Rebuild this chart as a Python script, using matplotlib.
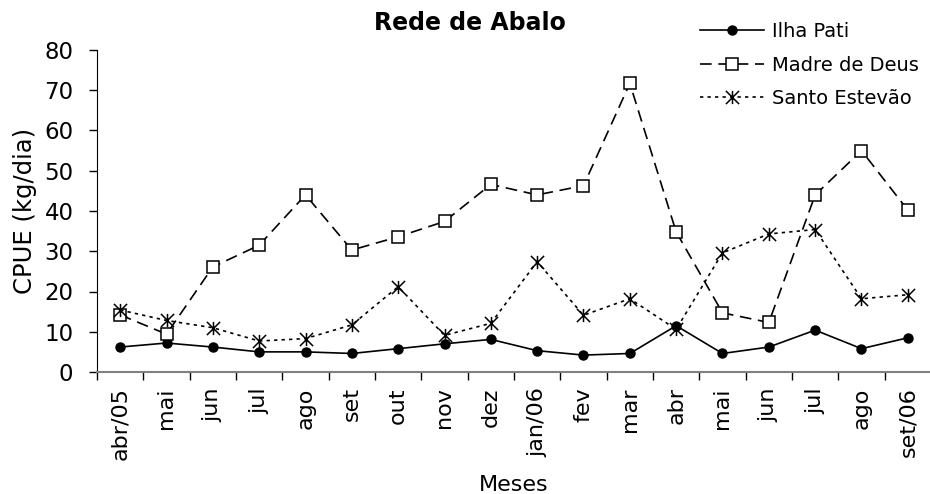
import matplotlib
matplotlib.use('Agg')
import matplotlib.pyplot as plt
from matplotlib.path import Path
import numpy as np

# Monthly CPUE (kg/dia) per site, abr/05 - set/06
meses = ['abr/05', 'mai', 'jun', 'jul', 'ago', 'set', 'out', 'nov', 'dez',
         'jan/06', 'fev', 'mar', 'abr', 'mai', 'jun', 'jul', 'ago', 'set/06']
ilha_pati = [6.2, 7.2, 6.2, 5.0, 5.0, 4.6, 5.8, 7.0, 8.1,
             5.3, 4.2, 4.6, 11.5, 4.6, 6.2, 10.4, 5.8, 8.5]
madre_de_deus = [14.2, 9.4, 26.1, 31.5, 44.0, 30.3, 33.6, 37.4, 46.6,
                 44.0, 46.3, 71.7, 34.8, 14.7, 12.3, 44.0, 55.0, 40.2]
santo_estevao = [15.4, 12.8, 11.0, 7.7, 8.3, 11.7, 21.2, 9.1, 12.1,
                 27.4, 14.1, 18.2, 10.6, 29.6, 34.3, 35.4, 18.2, 19.2]

plt.rcParams['font.family'] = ['DejaVu Sans']

# star marker: vertical bar plus an X
star = Path([(0, -1), (0, 1), (-1, -1), (1, 1), (-1, 1), (1, -1)],
            [Path.MOVETO, Path.LINETO, Path.MOVETO, Path.LINETO, Path.MOVETO, Path.LINETO])

fig = plt.figure(figsize=(9.3, 4.94), dpi=100)
ax = fig.add_axes([97 / 930, 122 / 494, 834 / 930, 322 / 494])

x = np.arange(len(meses))
ax.plot(x, ilha_pati, color='black', lw=1.2, marker='o', ms=6.5,
        label='Ilha Pati')
ax.plot(x, madre_de_deus, color='black', lw=1.2, ls=(0, (7, 4)), marker='s', ms=8.5,
        mfc='white', mec='black', mew=1.1, label='Madre de Deus')
ax.plot(x, santo_estevao, color='black', lw=1.2, ls=(0, (2, 2.5)), marker=star, ms=9.5,
        mew=1.1, label='Santo Estevão')

ax.set_xlim(-0.5, len(meses) - 0.5)
ax.set_ylim(0, 80)
ax.set_yticks(range(0, 81, 10))
ax.tick_params(axis='y', labelsize=16.5, length=6, width=1, pad=11)

# labels on categories, tick marks between them
ax.set_xticks(x)
ax.set_xticklabels(meses, rotation=90, fontsize=16)
ax.tick_params(axis='x', which='major', length=0, pad=11)
ax.set_xticks(np.arange(-0.5, len(meses)), minor=True)
ax.tick_params(axis='x', which='minor', length=6, width=1, color='black')

for side in ['top', 'right']:
    ax.spines[side].set_visible(False)
ax.spines['bottom'].set_color('#808080')
ax.spines['bottom'].set_linewidth(1.5)
ax.yaxis.get_major_ticks()[0].tick1line.set_color('#808080')

ax.set_ylabel('CPUE (kg/dia)', fontsize=17.5, labelpad=5)
ax.set_xlabel('Meses', fontsize=16)
ax.xaxis.set_label_coords(0.5, -(485 - 372) / 322)
ax.xaxis.label.set_va('center')
fig.text(470 / 930, 1 - 23 / 494, 'Rede de Abalo', ha='center', va='center',
         fontsize=17, fontweight='bold')

fig.legend(loc='upper left', bbox_to_anchor=(700 / 930, 1 - 22 / 494), frameon=False,
           fontsize=14, handlelength=3.3, handletextpad=0.4, labelspacing=0.75,
           borderpad=0, borderaxespad=0)

fig.savefig('out.png', dpi=100)
